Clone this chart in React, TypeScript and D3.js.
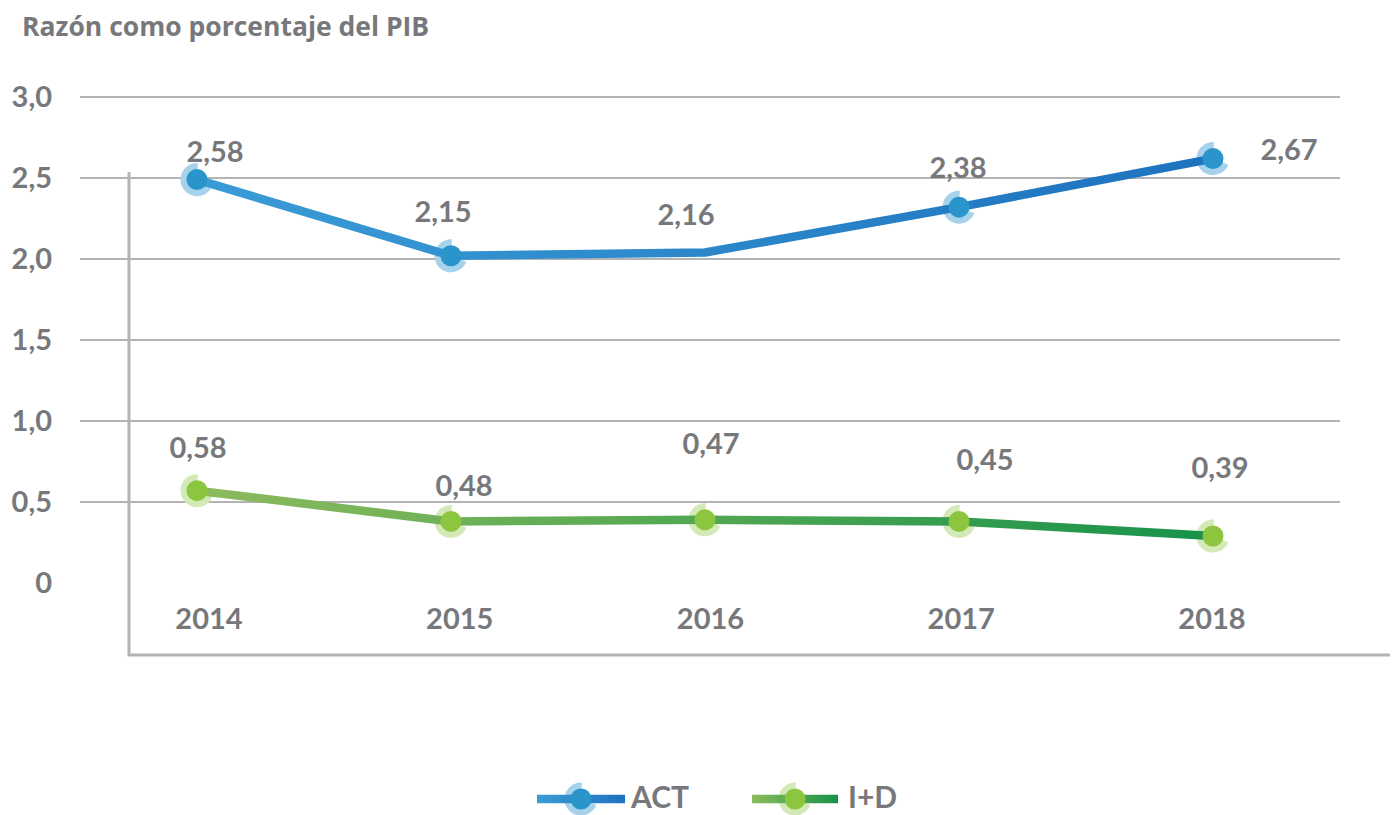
import React from "react";
import * as d3 from "d3";

const years = ["2014", "2015", "2016", "2017", "2018"];
const actValues = [2.49, 2.02, 2.04, 2.32, 2.62];
const actLabels = ["2,58", "2,15", "2,16", "2,38", "2,67"];
const actMarkers = [true, true, false, true, true];
const idValues = [0.57, 0.38, 0.39, 0.38, 0.29];
const idLabels = ["0,58", "0,48", "0,47", "0,45", "0,39"];
const idMarkers = [true, true, true, true, true];
const yTicks = [0, 0.5, 1, 1.5, 2, 2.5, 3];
const yTickLabels = ["0", "0,5", "1,0", "1,5", "2,0", "2,5", "3,0"];
const title = "Razón como porcentaje del PIB";

// label nudges (layout only)
const actNudge = [[18, -28], [-8, -44], [-19, -38], [-1, -40], [76, -9]];
const idNudge = [[1, -43], [13, -36], [6, -76], [26, -62], [7, -68]];

const W = 1393, H = 815;
const GREY = "#77787b";
const GRID = "#b1b3b4";
const FONT = "Lato, 'Open Sans', sans-serif";

const series = [
  { key: "ACT", values: actValues, labels: actLabels, markers: actMarkers, nudge: actNudge,
    g0: "#3a9cd6", g1: "#1d72be", dot: "#2a95cb", halo: "#a6d2eb", grad: "gAct" },
  { key: "I+D", values: idValues, labels: idLabels, markers: idMarkers, nudge: idNudge,
    g0: "#8cbb5c", g1: "#17924a", dot: "#8cc63f", halo: "#d3e9b6", grad: "gId" },
];

export default function App() {
  const x = d3.scalePoint<string>().domain(years).range([197, 1213]);
  const xLab = d3.scalePoint<string>().domain(years).range([209, 1212]);
  const y = d3.scaleLinear().domain([0, 3]).range([583, 97]);
  const line = d3.line<number>().x((_, i) => x(years[i])!).y((d) => y(d));
  const haloArc = d3.arc()({ innerRadius: 0, outerRadius: 16.5, startAngle: 1.95, endAngle: Math.PI * 2 + 0.05 } as any) as string;
  const legend = [
    { s: series[0], x0: 537, x1: 625, tx: 631 },
    { s: series[1], x0: 752, x1: 838, tx: 848 },
  ];
  const tickFs = 29;

  return (
    <svg width={W} height={H} style={{ position: "absolute", left: 0, top: 0 }} fontFamily={FONT}>
      <defs>
        {series.map((s) => (
          <linearGradient key={s.grad} id={s.grad} gradientUnits="userSpaceOnUse" x1={x(years[0])} x2={x(years[4])} y1={0} y2={0}>
            <stop offset="0" stopColor={s.g0} />
            <stop offset="1" stopColor={s.g1} />
          </linearGradient>
        ))}
        {legend.map((l) => (
          <linearGradient key={l.s.grad + "L"} id={l.s.grad + "L"} gradientUnits="userSpaceOnUse" x1={l.x0} x2={l.x1} y1={0} y2={0}>
            <stop offset="0" stopColor={l.s.g0} />
            <stop offset="1" stopColor={l.s.g1} />
          </linearGradient>
        ))}
      </defs>
      <rect width={W} height={H} fill="#fff" />
      <text x={22} y={36} fontSize={26.5} fontWeight={700} fill={GREY} fontFamily="'Open Sans', sans-serif">{title}</text>

      {yTicks.map((t, i) => (
        <g key={t}>
          {t > 0 && <line x1={80} x2={1340} y1={y(t)} y2={y(t)} stroke={GRID} strokeWidth={2} />}
          <text x={52} y={y(t) + tickFs * 0.36} textAnchor="end" fontSize={tickFs} fontWeight={700} fill={GREY}>{yTickLabels[i]}</text>
        </g>
      ))}

      <path d={`M129,172V655H1390`} fill="none" stroke={GRID} strokeWidth={3} />

      {years.map((yr) => (
        <text key={yr} x={xLab(yr)!} y={629} textAnchor="middle" fontSize={tickFs} fontWeight={700} fill={GREY}>{yr}</text>
      ))}

      {series.map((s) => (
        <g key={s.key}>
          {s.values.map((v, i) => s.markers[i] && (
            <path key={"h" + i} d={haloArc} transform={`translate(${x(years[i])},${y(v)})`} fill={s.halo} />
          ))}
          <path d={line(s.values)!} fill="none" stroke={`url(#${s.grad})`} strokeWidth={8.5} strokeLinejoin="round" />
          {s.values.map((v, i) => s.markers[i] && (
            <circle key={"d" + i} cx={x(years[i])} cy={y(v)} r={10.5} fill={s.dot} />
          ))}
          {s.labels.map((lab, i) => (
            <text key={"l" + i} x={x(years[i])! + s.nudge[i][0]} y={y(s.values[i]) + s.nudge[i][1] + tickFs * 0.36}
              textAnchor="middle" fontSize={tickFs} fontWeight={700} fill={GREY}>{lab}</text>
          ))}
        </g>
      ))}

      {legend.map((l) => {
        const cx = (l.x0 + l.x1) / 2;
        return (
          <g key={l.s.key}>
            <path d={haloArc} transform={`translate(${cx},799)`} fill={l.s.halo} />
            <line x1={l.x0} x2={l.x1} y1={799} y2={799} stroke={`url(#${l.s.grad}L)`} strokeWidth={8.5} />
            <circle cx={cx} cy={799} r={10.5} fill={l.s.dot} />
            <text x={l.tx} y={808} fontSize={30} fontWeight={700} fill={GREY}>{l.s.key}</text>
          </g>
        );
      })}
    </svg>
  );
}
